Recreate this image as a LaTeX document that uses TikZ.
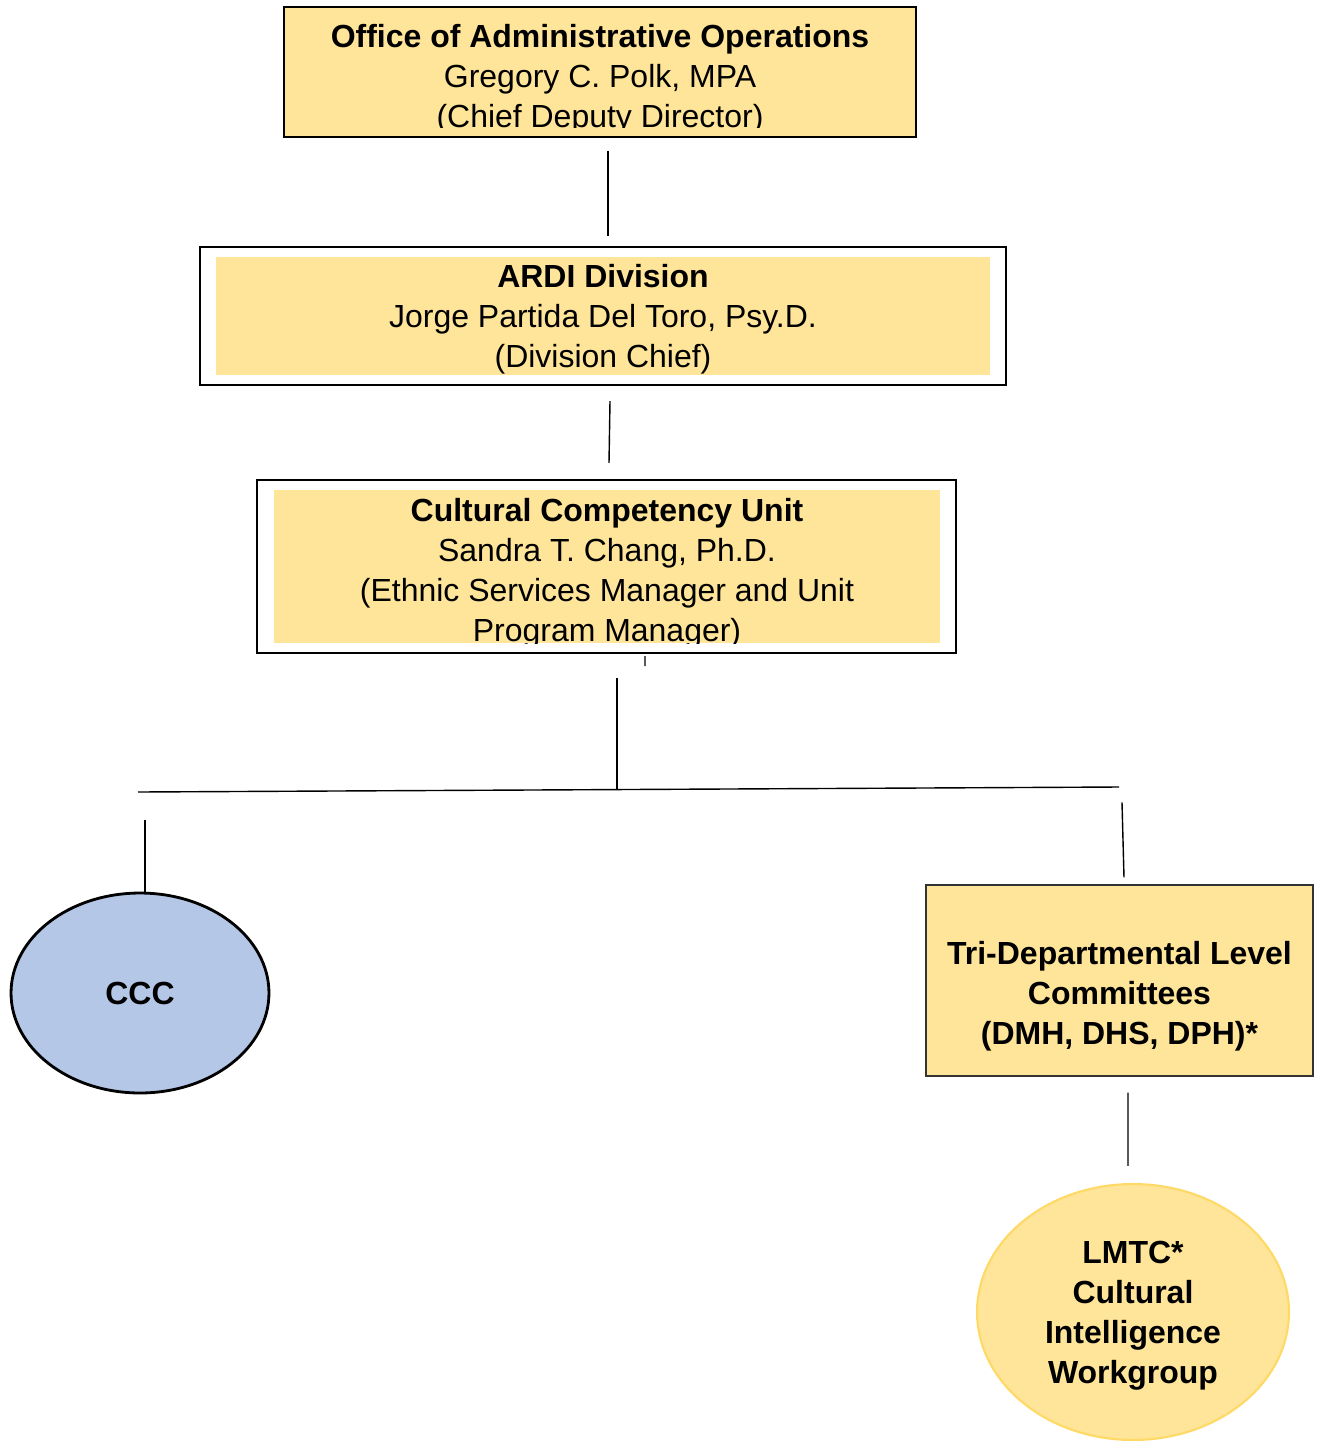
\documentclass[tikz,border=0pt]{standalone}
\usepackage{fontspec}
\setmainfont{Liberation Sans}
\usepackage{xcolor}
\usepackage{tikz}
\usetikzlibrary{shapes.geometric,calc}

\definecolor{boxyellow}{HTML}{FFE599}
\definecolor{cccblue}{HTML}{B4C7E7}
\definecolor{lmtcgold}{HTML}{FFD966}

\begin{document}
\begin{tikzpicture}[x=0.02cm, y=-0.02cm,
    every node/.style={font=\fontsize{18.2}{22.7}\selectfont, align=center, inner sep=0pt},
    frame/.style={rectangle, draw=black, line width=1.2pt, fill=white},
    unitbox/.style={rectangle, fill=boxyellow},
    link/.style={draw=black, line width=0.8pt}]
    \useasboundingbox (0,0) rectangle (1316,1441);

    % Top office box (last line cut off at the bottom)
    \node[unitbox, draw=black, line width=0.9pt, minimum width=12.64cm, minimum height=2.6cm] (oao) at (600,72) {};
    \begin{scope}
        \clip (oao.north west) rectangle ($(oao.south east)+(0,-10)$);
        \node (oaotext) at ($(oao.center)+(0,7)$)
            {\textbf{Office of Administrative Operations}\\Gregory C. Polk, MPA\\(Chief Deputy Director)};
    \end{scope}

    % Division box with white frame
    \node[frame, minimum width=16.12cm, minimum height=2.76cm] (ardibox) at (603,316) {};
    \node[unitbox, minimum width=15.48cm, minimum height=2.36cm] (ardi) at (603,316) {};
    \node (arditext) at ($(ardi.center)+(0,3.5)$)
        {\textbf{ARDI Division}\\Jorge Partida Del Toro, Psy.D.\\(Division Chief)};

    % Unit box with white frame
    \node[frame, minimum width=13.98cm, minimum height=3.46cm] (ccubox) at (606.5,566.5) {};
    \node[unitbox, minimum width=13.32cm, minimum height=3.06cm] (ccu) at (607,566.5) {};
    \begin{scope}
        \clip (ccubox.north west) rectangle (ccu.south east);
        \node (ccutext) at ($(ccu.center)+(0,6.5)$)
            {\textbf{Cultural Competency Unit}\\Sandra T. Chang, Ph.D.\\(Ethnic Services Manager and Unit\\Program Manager)};
    \end{scope}

    % Lower level
    \node[ellipse, draw=black, line width=1.6pt, fill=cccblue, minimum width=5.16cm, minimum height=4cm] (ccc) at (140,993)
        {\textbf{CCC}};
    \node[unitbox, draw=black!80, line width=0.7pt, minimum width=7.74cm, minimum height=3.82cm] (tri) at (1119.5,980.5) {};
    \node (tritext) at ($(tri.center)+(0,16)$)
        {\textbf{Tri-Departmental Level}\\\textbf{Committees}\\\textbf{(DMH, DHS, DPH)*}};
    \node[ellipse, draw=lmtcgold, line width=1.2pt, fill=boxyellow, minimum width=6.24cm, minimum height=5.12cm] (lmtc) at (1133,1312) {};
    \node (lmtctext) at ($(lmtc.center)+(0,4)$)
        {\textbf{LMTC*}\\\textbf{Cultural}\\\textbf{Intelligence}\\\textbf{Workgroup}};

    % Tree coordinates
    \coordinate (tick) at (645,666);
    \coordinate (hubtop) at (617,678);
    \coordinate (hub) at (617,789.5);
    \coordinate (leftend) at (138,792);
    \coordinate (rightend) at (1119,787);

    % Draw the connectors
    \draw[link] ($(oao.south)+(8,13)$) -- ($(ardibox.north)+(5,-10)$);
    \draw[link] ($(ardibox.south)+(7,15)$) -- ($(ccubox.north)+(2.5,-16)$);
    \draw[link] ($(ccubox.south)+(38.5,2)$) -- (tick);
    \draw[link] (hubtop) -- (hub);
    \draw[link] (leftend) -- (rightend);
    \draw[link] ($(ccc.north)+(5,-72)$) -- ($(ccc.north)+(5,0)$);
    \draw[link] ($(tri.north)+(2.5,-82)$) -- ($(tri.north)+(4.5,-7)$);
    \draw[link] ($(tri.south)+(8.5,16)$) -- ($(lmtc.north)+(-5,-17)$);
\end{tikzpicture}
\end{document}
